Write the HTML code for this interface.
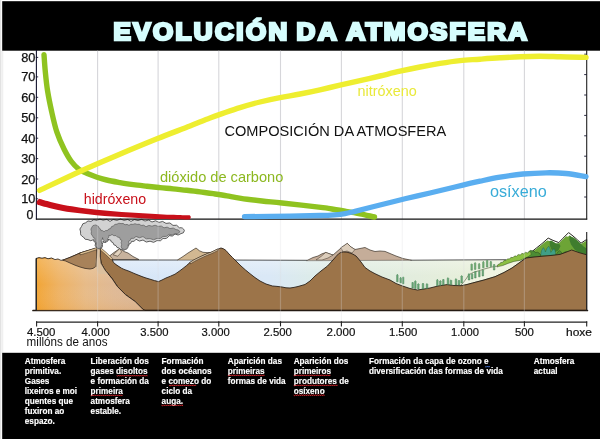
<!DOCTYPE html>
<html lang="gl">
<head>
<meta charset="utf-8">
<title>Evolución da atmosfera</title>
<style>
  html, body { margin: 0; padding: 0; background: #ffffff; }
  body { width: 600px; height: 439px; overflow: hidden; position: relative;
         font-family: "Liberation Sans", sans-serif; }
  svg { position: absolute; left: 0; top: 0; display: block; will-change: transform; }
  text { font-family: "Liberation Sans", sans-serif; }
</style>
</head>
<body>
<svg width="600" height="439" viewBox="0 0 600 439">
  <defs>
    <linearGradient id="gOrange" gradientUnits="userSpaceOnUse" x1="36" y1="0" x2="147" y2="0">
      <stop offset="0" stop-color="#f2a535"/>
      <stop offset="0.2" stop-color="#eeb263"/>
      <stop offset="0.45" stop-color="#e7bb88"/>
      <stop offset="0.7" stop-color="#dfb995"/>
      <stop offset="1" stop-color="#d8b69a"/>
    </linearGradient>
    <linearGradient id="gOrangeV" x1="0" y1="0" x2="0" y2="1">
      <stop offset="0" stop-color="#ffffff" stop-opacity="0.18"/>
      <stop offset="0.5" stop-color="#ffffff" stop-opacity="0"/>
      <stop offset="1" stop-color="#e88a10" stop-opacity="0.12"/>
    </linearGradient>
    <clipPath id="clipOrange"><path d="M36.4,258.4 L64,259.8 L97.4,247.8 L100.4,247.8 L101,263.2 L105,270 L111.9,278.3 L117.4,286.5 L125.6,294.7 L135.1,301.5 L142,308.4 L144.7,310.4 L36.4,310.4 Z"/></clipPath>
    <linearGradient id="gWaterV" x1="0" y1="0" x2="0" y2="1">
      <stop offset="0" stop-color="#ffffff" stop-opacity="0.3"/>
      <stop offset="1" stop-color="#ffffff" stop-opacity="0"/>
    </linearGradient>
    <linearGradient id="gWater" gradientUnits="userSpaceOnUse" x1="112" y1="0" x2="507" y2="0">
      <stop offset="0" stop-color="#d7e6f8"/>
      <stop offset="0.40" stop-color="#dae8f6"/>
      <stop offset="0.50" stop-color="#dcebea"/>
      <stop offset="0.66" stop-color="#e0ece0"/>
      <stop offset="0.85" stop-color="#e5eedb"/>
      <stop offset="1" stop-color="#e9f0d8"/>
    </linearGradient>
  </defs>

  <!-- page background -->
  <rect x="0" y="0" width="600" height="439" fill="#ffffff"/>
  <rect x="0" y="0" width="1.2" height="439" fill="#e2e2e2"/>
  <rect x="1.2" y="50.7" width="2.1" height="302.1" fill="#f0f0f0"/>

  <!-- title band -->
  <rect x="2.2" y="1.2" width="598" height="49.5" fill="#000000"/>
  <g id="title" transform="scale(1.08 1)" font-size="24.0" font-weight="bold" fill="#d6fdfd" stroke="#d6fdfd" stroke-width="2.6" stroke-linejoin="miter">
    <text x="105.00" y="39.75" textLength="161.02" lengthAdjust="spacing">EVOLUCIÓN</text>
    <text x="274.54" y="39.75" textLength="37.31" lengthAdjust="spacing">DA</text>
    <text x="320.93" y="39.75" textLength="167.04" lengthAdjust="spacing">ATMOSFERA</text>
  </g>


  <!-- TERRAIN -->
  <g id="terrain" stroke-linejoin="round" stroke-linecap="round">
    <!-- water -->
    <path d="M112,260 L507,260 L507,292 L112,292 Z" fill="url(#gWater)" stroke="none"/>
    <!-- back mountains (tan) -->
    <path d="M109.5,256 L114,252.5 L120,248.4 L124,251.5 L128,253 L133,256.5 L139,259.6 L113,259.6 Z" fill="#c7b29d" stroke="#3a3026" stroke-width="0.7"/>
    <path d="M113.5,254.6 L120,248.4 L121.5,252 L118,256 Z" fill="#e2d3bf" stroke="#3a3026" stroke-width="0.5"/>
    <path d="M177.5,260 L183,256.5 L188,253 L192,250.5 L196,248 L199.5,250.8 L203,252.3 L207,252.6 L211,252.5 L216,260 Z" fill="#d2b892" stroke="#3a3026" stroke-width="0.7"/>
    <path d="M307,260.5 L313,257.5 L318,256 L322,253.8 L326,252.5 L330,254 L333,255 L337,251.5 L341,248 L347.5,243.5 L351,247 L355,249.5 L360,248.5 L365,247.5 L370,250 L375,251.5 L380,251 L385,251.4 L390,253.5 L396,256 L403,258.5 L411,260.2 Z" fill="#c5ad99" stroke="#3a3026" stroke-width="0.7"/>
    <path d="M326,252.5 L330,254 L333,255 L328,258 L322,260 L316,260 L321,256.5 Z" fill="#dccdbb" stroke="#3a3026" stroke-width="0.5"/>
    <path d="M347.5,243.5 L351,247 L355,249.5 L352,253 L347,251 L343,252 L341,248 Z" fill="#dccdbb" stroke="#3a3026" stroke-width="0.5"/>
    <!-- water top highlight -->
    <rect x="112" y="260" width="395" height="16" fill="url(#gWaterV)" stroke="none"/>
    <!-- water surface line -->
    <path d="M113,260 L177,260 M216,260 L307,260.3 M411,260.2 L506,259.7" fill="none" stroke="#2c2c2c" stroke-width="0.8"/>
    <!-- green hills on right -->
    <path d="M524.9,257.8 L531,252.4 L536.8,247.7 L542,243.6 L548.2,238.1 L553,240.4 L558.8,242.6 L563,238.2 L568.6,232.6 L573,236 L577.6,240 L581,243.2 L586.7,239.4 L586.7,254.8 L560,256 Z" fill="#ffffff" stroke="#26261e" stroke-width="1"/>
    <path d="M524.9,257.8 L531,253 L536.8,248.6 L542,244.6 L545,242 L547.4,240.4 L549.6,241 L551.4,240.8 L553.4,242 L556,243.4 L558.8,243.4 L561.6,240.6 L564,238.2 L566,236.2 L568,236.8 L569.6,235.6 L571.6,237 L573.6,237.8 L577.4,240.8 L581,244 L586.7,240.4 L586.7,254.8 L560,256.4 Z" fill="#6da436" stroke="none"/>
    <path d="M549.6,241 L551.4,240.8 L553.4,242 L556,243.4 L558.8,243.4 L560.5,246 L558.4,250.5 L554.6,252.6 L551.4,249.4 L549.8,245.4 Z" fill="#3f7d2e" stroke="none"/>
    <path d="M569.6,235.6 L571.6,237 L573.6,237.8 L577.4,240.8 L581,244 L583.6,246.4 L586.7,248.4 L586.7,254.8 L579,252.6 L574.6,249.4 L571,244.4 L569.4,240 Z" fill="#3f7d2e" stroke="none"/>
    <path d="M540.6,255.4 Q541,249.8 543.4,247.6 Q544.8,249.4 545.4,252 Q546.6,247.6 548.8,246.2 Q550.6,248.8 550.8,252.4 Q552.2,249.6 554.2,248.8 Q555.8,251.2 555.6,254.8 Z" fill="#3f9f86" stroke="#1e5a48" stroke-width="0.4"/>
    <path d="M526.6,257.4 Q526.8,253 529,251.6 Q530.4,249.6 532.2,250.8 Q534.6,250.4 535.4,252.6 Q537.6,251.6 539,253 Q540.8,254 540.6,256.2 Z" fill="#4c8c34" stroke="#26421c" stroke-width="0.5"/>
    <path d="M556,255 Q557,251.6 559.6,250.6 Q561.6,251.8 562.4,254 Q564,251.8 566.4,251.6 Q567.4,252.8 567,253.6 Z" fill="#4c8c34" stroke="#26421c" stroke-width="0.4"/>
    <!-- shelf light green -->
    <path d="M460,286 L463,283 L466,279 L469,274.6 L473,272.6 L478,271 L485,268.8 L492,267 L497.5,266 L503,263.6 L508,261.4 L514,259.8 L520,259.6 L526,257.6 L519,263 L512,268 L504,272.5 L495,276.7 L484,280 L472.5,283 L467,284.5 Z" fill="#f0f4e2" stroke="#4a5636" stroke-width="0.6"/>
    <!-- foreground bushes along slope -->
    <path d="M497,266.6 Q497.6,263.6 499.6,264 Q500.4,261.6 502.6,262.4 Q503.6,259.6 506,260.6 Q507,258 509.4,259 Q510.6,256.4 513,257.6 Q514.4,255 516.6,256.2 Q518,253.6 520.4,255 Q521.6,252.4 523.6,253.8 Q525.4,251.2 527.4,253 Q529,250.4 531,252.2 Q532,254.4 529.4,256 L526,257.8 L520,260.4 L514,261.4 L508,263.4 L503,265.4 Z" fill="#8cc043" stroke="#2e4a1e" stroke-width="0.5"/>
    <!-- main brown ground -->
    <path id="brown" d="M100.4,248.6 L106,253.5 L112,259 L113.4,262.4 L116,264.6 L119,266.6 L121.5,268.2 L124,269.4 L129,271.2 L134,273.4 L138,275 L142,276.6 L146,278 L150,279.2 L154.5,280.6 L158.5,281.6 L162,280 L166,278 L170.5,276.2 L175,274.2 L179,271.4 L183,268.4 L186.5,265.6 L190,262.5 L194,260 L198,258 L203,255.6 L207.5,253.7 L211,252.4 L214,251 L217.5,249.2 L221,248 L223.5,248.8 L226,250.5 L229,254 L232.5,257.5 L237,262 L241,266 L245.5,270 L250,273.7 L255,277.6 L260,281 L266,284 L272.5,286 L277,286.4 L282,287 L286,287.8 L290,288 L294,287.4 L298,286.5 L305,284.5 L310,281 L315,276 L321,271 L327.5,266 L333,260 L336,256.5 L338.7,253.7 L341,252.4 L343.7,252 L347,252.2 L350,253 L353,254.2 L356,256 L358.6,259 L361,262 L365,267.5 L370,271 L375,273.7 L382,277 L390,280 L396,283.5 L402.5,286 L410,288.5 L417.5,290 L424,289 L430,288 L438,286 L447,284.6 L454,285.5 L461,285.7 L467,284.5 L472.5,283 L484,280 L495,276.7 L504,272.5 L512,268 L519,263 L526,258 L534,257 L543,256.2 L552,255.4 L560,254.4 L566,252.2 L571.7,250 L579,252.6 L586.7,254.8 L586.7,310.4 L144.7,310.4 L142,308.4 L135.1,301.5 L125.6,294.7 L117.4,286.5 L111.9,278.3 L105,270 L101,263.2 L100.2,256 Z" fill="#9c7449" stroke="#2a2018" stroke-width="0.9"/>
    <path d="M190,262.3 L194,259.8 L198,257.8 L203,255.4 L207.5,253.5 L211,252.2 L214,250.8 L217.5,249 L218.4,250.2 L214.6,252.2 L211.6,253.6 L208,255 L203.6,256.9 L198.8,259.2 L194.8,261.2 L191,263.6 Z" fill="#dbc6a6" stroke="#2a2018" stroke-width="0.5"/>
    <line x1="33" y1="310.5" x2="587.4" y2="310.5" stroke="#241a12" stroke-width="1.7"/>
    <!-- orange left block -->
    <path id="orange" d="M36.4,258.4 L39,257.6 L42,258.2 L45,257.6 L48,258.8 L51.5,258 L55,259.6 L58,259 L61,260.4 L64,259.8 L70,257.4 L76,254.8 L80,253 L88,250.6 L97.4,247.8 L100.4,247.8 L100.2,256 L101,263.2 L105,270 L111.9,278.3 L117.4,286.5 L125.6,294.7 L135.1,301.5 L142,308.4 L144.7,310.4 L36.4,310.4 Z" fill="url(#gOrange)" stroke="#2a2018" stroke-width="0.9"/>
    <rect x="37" y="259" width="110" height="51" fill="url(#gOrangeV)" stroke="none" clip-path="url(#clipOrange)"/>
    <!-- volcano left flank dark -->
    <path d="M63,260 L70,257.4 L76,254.8 L80,253 L88,250.6 L97,248.2 L96.8,256 L96.4,262 L96,266.4 L93,268.4 L90,269 L85,268.4 L80,267 L75,265.2 L70,263 L66,261.2 Z" fill="#a8825a" stroke="#2a2018" stroke-width="0.7"/>
    <!-- lava strips -->
    <path d="M80,253 L88,250.4 L97.2,247.4 L97.4,249.4 L88.4,252.4 L80.6,254.8 Z" fill="#e3c595" stroke="#2a2018" stroke-width="0.5"/>
    <path d="M100.4,247.6 L106.4,252.6 L112.6,258.6 L111.2,260 L105.4,254.4 L100.4,250 Z" fill="#e3c595" stroke="#2a2018" stroke-width="0.5"/>
    <!-- conduit -->
    <path d="M97.2,248.4 L100.2,248.4 L100.2,256 L101,263.2 L105,270 L108,274 L99,274 L95.6,268 L95.6,262 L96.4,256 Z" fill="#dcc09e" stroke="none"/>
    <path d="M97,248.4 L96.6,256 L96.2,262 L96,266.4 M100.4,248.6 L100.2,256 L101,263.2 L105,270 L111.9,278.3" fill="none" stroke="#2a2018" stroke-width="0.6"/>
  </g>

  <g id="plants">
    <path d="M396.6,281.8 L396.6,275.1 Q397.4,273.5 398.1,275.1 L398.1,281.8 Z" fill="#6fb07c" stroke="#2f6a44" stroke-width="0.4"/>
    <path d="M399.9,282.8 L399.9,278.1 Q400.6,276.5 401.4,278.1 L401.4,282.8 Z" fill="#6fb07c" stroke="#2f6a44" stroke-width="0.4"/>
    <path d="M402.4,283.8 L402.4,277.6 Q403.2,276.0 403.9,277.6 L403.9,283.8 Z" fill="#6fb07c" stroke="#2f6a44" stroke-width="0.4"/>
    <path d="M411.9,288.0 L411.9,282.8 Q412.6,281.2 413.4,282.8 L413.4,288.0 Z" fill="#6fb07c" stroke="#2f6a44" stroke-width="0.4"/>
    <path d="M414.6,288.6 L414.6,281.4 Q415.4,279.8 416.1,281.4 L416.1,288.6 Z" fill="#6fb07c" stroke="#2f6a44" stroke-width="0.4"/>
    <path d="M417.6,289.0 L417.6,284.3 Q418.4,282.7 419.1,284.3 L419.1,289.0 Z" fill="#6fb07c" stroke="#2f6a44" stroke-width="0.4"/>
    <path d="M422.2,289.0 L422.2,283.8 Q423.0,282.2 423.8,283.8 L423.8,289.0 Z" fill="#6fb07c" stroke="#2f6a44" stroke-width="0.4"/>
    <path d="M426.2,288.4 L426.2,284.2 Q427.0,282.6 427.8,284.2 L427.8,288.4 Z" fill="#6fb07c" stroke="#2f6a44" stroke-width="0.4"/>
    <path d="M436.6,285.8 L436.6,280.1 Q437.4,278.5 438.1,280.1 L438.1,285.8 Z" fill="#6fb07c" stroke="#2f6a44" stroke-width="0.4"/>
    <path d="M439.6,285.4 L439.6,281.2 Q440.4,279.6 441.1,281.2 L441.1,285.4 Z" fill="#6fb07c" stroke="#2f6a44" stroke-width="0.4"/>
    <path d="M442.6,285.0 L442.6,279.8 Q443.4,278.2 444.1,279.8 L444.1,285.0 Z" fill="#6fb07c" stroke="#2f6a44" stroke-width="0.4"/>
    <path d="M447.2,284.6 L447.2,278.4 Q448.0,276.8 448.8,278.4 L448.8,284.6 Z" fill="#6fb07c" stroke="#2f6a44" stroke-width="0.4"/>
    <path d="M450.2,284.8 L450.2,280.6 Q451.0,279.0 451.8,280.6 L451.8,284.8 Z" fill="#6fb07c" stroke="#2f6a44" stroke-width="0.4"/>
    <path d="M455.2,285.0 L455.2,279.3 Q456.0,277.7 456.8,279.3 L456.8,285.0 Z" fill="#6fb07c" stroke="#2f6a44" stroke-width="0.4"/>
    <path d="M458.2,285.0 L458.2,280.8 Q459.0,279.2 459.8,280.8 L459.8,285.0 Z" fill="#6fb07c" stroke="#2f6a44" stroke-width="0.4"/>
    <path d="M460.9,283.0 L460.9,276.3 Q461.6,274.7 462.4,276.3 L462.4,283.0 Z" fill="#6fb07c" stroke="#2f6a44" stroke-width="0.4"/>
    <path d="M468.2,280.0 L468.2,274.3 Q469.0,272.7 469.8,274.3 L469.8,280.0 Z" fill="#6fb07c" stroke="#2f6a44" stroke-width="0.4"/>
    <path d="M471.4,279.0 L471.4,274.3 Q472.2,272.7 472.9,274.3 L472.9,279.0 Z" fill="#6fb07c" stroke="#2f6a44" stroke-width="0.4"/>
    <path d="M474.6,278.0 L474.6,271.8 Q475.4,270.2 476.1,271.8 L476.1,278.0 Z" fill="#6fb07c" stroke="#2f6a44" stroke-width="0.4"/>
    <path d="M478.6,276.8 L478.6,271.6 Q479.4,270.0 480.1,271.6 L480.1,276.8 Z" fill="#6fb07c" stroke="#2f6a44" stroke-width="0.4"/>
    <path d="M482.1,276.0 L482.1,270.3 Q482.8,268.7 483.6,270.3 L483.6,276.0 Z" fill="#6fb07c" stroke="#2f6a44" stroke-width="0.4"/>
    <path d="M470.9,270.2 L470.9,264.5 Q471.6,262.9 472.4,264.5 L472.4,270.2 Z" fill="#7ab676" stroke="#2f6a44" stroke-width="0.4"/>
    <path d="M474.4,269.4 L474.4,263.2 Q475.2,261.6 475.9,263.2 L475.9,269.4 Z" fill="#7ab676" stroke="#2f6a44" stroke-width="0.4"/>
    <path d="M478.4,268.8 L478.4,264.1 Q479.2,262.5 479.9,264.1 L479.9,268.8 Z" fill="#7ab676" stroke="#2f6a44" stroke-width="0.4"/>
    <path d="M482.6,267.8 L482.6,262.1 Q483.4,260.5 484.1,262.1 L484.1,267.8 Z" fill="#7ab676" stroke="#2f6a44" stroke-width="0.4"/>
    <path d="M486.4,267.0 L486.4,260.8 Q487.2,259.2 487.9,260.8 L487.9,267.0 Z" fill="#7ab676" stroke="#2f6a44" stroke-width="0.4"/>
    <path d="M490.1,266.6 L490.1,261.9 Q490.8,260.3 491.6,261.9 L491.6,266.6 Z" fill="#7ab676" stroke="#2f6a44" stroke-width="0.4"/>
    <path d="M493.4,270.0 L493.4,264.8 Q494.2,263.2 494.9,264.8 L494.9,270.0 Z" fill="#7ab676" stroke="#2f6a44" stroke-width="0.4"/>
  </g>

  <!-- smoke -->
  <g id="smoke" stroke="#3c3c3c" stroke-width="0.8" stroke-linejoin="round">
    <path id="smokeOuter" d="M97.0,248.0 Q94.0,245.9 95.6,242.6 Q93.3,242.0 93.5,239.6 Q90.8,241.9 88.0,239.6 Q84.6,240.2 83.4,237.0 Q79.9,235.7 80.6,232.0 Q78.7,228.8 81.6,226.4 Q82.1,222.9 85.6,222.8 Q87.7,219.8 91.0,221.4 Q93.6,218.4 97.0,220.4 Q99.9,217.8 103.0,220.2 Q107.0,217.9 110.0,221.4 Q113.1,218.0 117.0,220.4 Q120.5,217.5 124.0,220.4 Q127.9,218.0 131.0,221.4 Q134.2,218.1 138.0,220.6 Q141.7,217.9 145.0,221.0 Q148.9,218.6 152.0,222.0 Q155.7,219.3 159.0,222.4 Q162.9,220.0 166.0,223.4 Q170.3,221.5 173.0,225.4 Q177.2,223.9 179.4,227.8 Q183.1,227.1 184.4,230.6 Q184.0,233.5 181.0,233.6 Q178.2,236.3 175.0,234.0 Q172.7,237.3 169.0,235.6 Q167.2,239.5 163.0,238.4 Q160.9,242.0 157.0,240.6 Q153.8,243.8 150.0,241.2 Q146.0,243.5 143.0,240.0 Q139.2,242.5 136.0,239.2 Q134.7,242.2 131.5,241.4 Q131.3,243.8 129.0,244.0 Q129.3,245.9 127.5,246.6 Q127.7,248.8 125.5,249.4 Q123.5,251.1 121.5,249.4 Q119.7,249.8 119.0,248.0 Q116.5,248.1 116.0,245.6 Q113.2,245.4 113.0,242.6 Q110.7,242.3 110.6,240.0 Q109.2,240.3 108.6,239.0 Q108.8,240.9 107.0,241.4 Q106.4,242.7 105.0,242.4 Q103.6,242.6 103.2,241.2 Q103.8,243.1 102.0,244.0 Q103.4,246.2 101.5,248.0 Q99.2,249.9 97.0,248.0 Z" fill="#d2d2d2"/>
    <path id="smokeDark" d="M97.2,248.0 Q95.0,245.8 96.4,243.0 Q94.0,241.2 95.0,238.4 Q92.9,238.1 92.6,236.0 Q90.3,234.1 91.4,231.4 Q90.1,229.0 92.0,227.0 Q92.6,225.2 94.4,225.2 Q95.8,224.5 97.0,225.6 Q98.9,226.1 99.0,228.0 Q100.9,228.6 101.0,230.6 Q102.9,230.1 104.0,231.8 Q105.3,229.9 107.5,230.6 Q108.3,228.5 110.5,228.6 Q111.0,226.1 113.5,225.8 Q114.7,223.7 117.0,224.2 Q118.8,222.5 121.0,223.6 Q123.4,222.8 125.0,224.8 Q127.2,223.7 129.0,225.4 Q130.6,223.5 133.0,224.4 Q135.0,223.0 137.0,224.4 Q139.4,223.5 141.0,225.4 Q144.0,224.3 146.0,226.8 Q148.8,224.3 152.0,226.2 Q155.1,224.1 158.0,226.4 Q161.5,224.9 164.0,227.8 Q167.3,226.0 170.0,228.6 Q173.4,226.9 176.0,229.6 Q178.8,229.3 180.0,231.8 Q178.1,234.5 175.0,233.6 Q172.2,236.1 169.0,234.2 Q166.8,237.5 163.0,236.4 Q160.7,239.6 157.0,238.4 Q153.6,241.0 150.0,238.6 Q145.8,240.1 143.0,236.6 Q139.4,239.0 136.0,236.4 Q134.2,239.2 131.0,238.4 Q130.8,240.8 128.4,241.4 Q129.5,243.3 128.0,245.0 Q128.9,247.3 127.0,248.8 Q124.6,250.5 122.2,248.8 Q120.4,246.9 121.6,244.6 Q120.4,242.5 122.0,240.6 Q119.6,239.9 119.6,237.4 Q117.2,237.8 116.0,235.6 Q113.6,236.4 112.0,234.4 Q110.8,236.1 108.8,235.4 Q109.4,237.4 107.6,238.6 Q107.9,240.7 106.0,241.6 Q104.6,241.7 104.0,240.4 Q102.3,239.5 102.6,237.6 Q102.9,239.7 101.0,240.6 Q103.5,244.4 100.6,248.0 Q98.9,249.2 97.2,248.0 Z" fill="#9e9e9e" stroke="#505050" stroke-width="0.6"/>
  </g>

  <!-- vertical grid lines -->
  <g id="grid" fill="none">
    <line x1="97.6" y1="50.7" x2="97.6" y2="219" stroke="#d6d6da" stroke-width="1.1"/>
    <line x1="97.6" y1="219" x2="97.6" y2="322" stroke="#dadade" stroke-opacity="0.28" stroke-width="1.2"/>
    <line x1="158.1" y1="50.7" x2="158.1" y2="219" stroke="#d6d6da" stroke-width="1.1"/>
    <line x1="158.1" y1="219" x2="158.1" y2="322" stroke="#dadade" stroke-opacity="0.28" stroke-width="1.2"/>
    <line x1="218.8" y1="50.7" x2="218.8" y2="219" stroke="#d6d6da" stroke-width="1.1"/>
    <line x1="218.8" y1="219" x2="218.8" y2="322" stroke="#dadade" stroke-opacity="0.28" stroke-width="1.2"/>
    <line x1="280.5" y1="50.7" x2="280.5" y2="219" stroke="#d6d6da" stroke-width="1.1"/>
    <line x1="280.5" y1="219" x2="280.5" y2="322" stroke="#dadade" stroke-opacity="0.28" stroke-width="1.2"/>
    <line x1="341.4" y1="50.7" x2="341.4" y2="219" stroke="#d6d6da" stroke-width="1.1"/>
    <line x1="341.4" y1="219" x2="341.4" y2="322" stroke="#dadade" stroke-opacity="0.28" stroke-width="1.2"/>
    <line x1="402.3" y1="50.7" x2="402.3" y2="219" stroke="#d6d6da" stroke-width="1.1"/>
    <line x1="402.3" y1="219" x2="402.3" y2="322" stroke="#dadade" stroke-opacity="0.28" stroke-width="1.2"/>
    <line x1="463.8" y1="50.7" x2="463.8" y2="219" stroke="#d6d6da" stroke-width="1.1"/>
    <line x1="463.8" y1="219" x2="463.8" y2="322" stroke="#dadade" stroke-opacity="0.28" stroke-width="1.2"/>
    <line x1="524.4" y1="50.7" x2="524.4" y2="219" stroke="#d6d6da" stroke-width="1.1"/>
    <line x1="524.4" y1="219" x2="524.4" y2="322" stroke="#dadade" stroke-opacity="0.28" stroke-width="1.2"/>
  </g>

  <!-- chart axes -->
  <g id="axes" stroke="#14142e" stroke-width="1.1" fill="none">
    <line x1="36.4" y1="50" x2="36.4" y2="219.6"/>
    <line x1="35.9" y1="219.1" x2="587.2" y2="219.1" stroke="#111"/>
    <line x1="586.7" y1="50" x2="586.7" y2="219.6" stroke="#222"/>
    <line x1="36.4" y1="258" x2="36.4" y2="311" stroke="#222"/>
    <line x1="586.7" y1="232" x2="586.7" y2="311" stroke="#222"/>
    <line x1="36" y1="322.1" x2="587.2" y2="322.1" stroke="#222" stroke-width="1.3"/>
  </g>

  <g id="yticks" stroke="#14142e" stroke-width="0.9">
    <line x1="35.8" y1="57.4" x2="38.2" y2="57.4"/>
    <line x1="35.8" y1="76.9" x2="38.2" y2="76.9"/>
    <line x1="35.8" y1="97.3" x2="38.2" y2="97.3"/>
    <line x1="35.8" y1="117.8" x2="38.2" y2="117.8"/>
    <line x1="35.8" y1="138.2" x2="38.2" y2="138.2"/>
    <line x1="35.8" y1="158.6" x2="38.2" y2="158.6"/>
    <line x1="35.8" y1="179.0" x2="38.2" y2="179.0"/>
    <line x1="35.8" y1="198.8" x2="38.2" y2="198.8"/>
    <line x1="584.2" y1="54.2" x2="586.7" y2="54.2"/>
    <line x1="584.2" y1="74.6" x2="586.7" y2="74.6"/>
    <line x1="584.2" y1="95.0" x2="586.7" y2="95.0"/>
    <line x1="584.2" y1="115.4" x2="586.7" y2="115.4"/>
    <line x1="584.2" y1="135.8" x2="586.7" y2="135.8"/>
    <line x1="584.2" y1="156.2" x2="586.7" y2="156.2"/>
    <line x1="584.2" y1="176.6" x2="586.7" y2="176.6"/>
    <line x1="584.2" y1="197.0" x2="586.7" y2="197.0"/>
  </g>

  <!-- CURVES -->
  <g id="curves" fill="none" stroke-linecap="round" stroke-linejoin="round">
    <path id="co2" d="M44.0,54.6 C44.2,57.2 44.6,64.4 45.2,70.5 C45.8,76.6 46.5,84.2 47.6,91.0 C48.7,97.8 50.1,104.6 51.6,111.4 C53.1,118.2 54.7,125.6 56.8,131.9 C58.9,138.2 61.6,144.2 64.0,149.0 C66.4,153.8 68.5,157.6 71.0,161.0 C73.5,164.4 76.2,167.2 79.0,169.3 C81.8,171.4 85.0,172.5 88.0,173.8 C91.0,175.1 93.9,176.2 97.0,177.2 C100.1,178.2 102.9,179.1 106.7,180.0 C110.5,180.9 115.6,181.8 120.0,182.6 C124.4,183.4 128.8,184.0 133.3,184.6 C137.8,185.2 142.6,185.7 147.0,186.2 C151.4,186.7 155.7,187.1 160.0,187.6 C164.3,188.1 168.6,188.4 173.0,188.9 C177.4,189.4 182.2,189.8 186.7,190.3 C191.2,190.8 195.6,191.3 200.0,191.9 C204.4,192.5 208.8,193.0 213.3,193.7 C217.8,194.4 222.4,195.1 227.0,195.9 C231.6,196.7 235.2,197.5 241.0,198.3 C246.8,199.2 255.2,200.2 262.0,201.0 C268.8,201.8 271.8,201.9 282.0,203.0 C292.2,204.1 315.0,206.7 323.0,207.6 C331.0,208.5 326.3,208.1 330.0,208.7 C333.7,209.3 340.0,210.3 345.0,211.2 C350.0,212.0 355.1,212.8 360.0,213.8 C364.9,214.8 372.1,216.5 374.5,217.0" stroke="#8fc320" stroke-width="5.4"/>
    <path id="nitro" d="M39.6,190.4 C46.5,187.2 67.3,177.2 81.0,171.0 C94.7,164.8 109.3,158.7 122.0,153.3 C134.7,147.9 145.7,143.4 157.0,138.8 C168.3,134.2 181.2,129.5 190.0,126.0 C198.8,122.5 205.0,119.9 210.0,118.0 C215.0,116.1 215.0,116.1 220.0,114.4 C225.0,112.7 233.3,109.7 240.0,107.6 C246.7,105.5 253.3,103.7 260.0,102.0 C266.7,100.3 273.3,98.9 280.0,97.6 C286.7,96.3 293.3,95.3 300.0,94.0 C306.7,92.7 313.3,91.3 320.0,89.8 C326.7,88.3 333.3,86.7 340.0,85.2 C346.7,83.7 353.3,82.1 360.0,80.6 C366.7,79.1 373.3,77.6 380.0,76.0 C386.7,74.4 393.3,72.7 400.0,71.2 C406.7,69.7 413.3,68.3 420.0,67.0 C426.7,65.7 433.3,64.5 440.0,63.4 C446.7,62.3 453.3,61.3 460.0,60.6 C466.7,59.9 473.3,59.7 480.0,59.2 C486.7,58.7 493.3,58.2 500.0,57.8 C506.7,57.4 513.3,57.0 520.0,56.7 C526.7,56.4 533.3,56.2 540.0,56.2 C546.7,56.2 553.3,56.6 560.0,56.8 C566.7,57.0 575.7,57.2 580.0,57.3 C584.3,57.4 585.0,57.4 586.0,57.4" stroke="#eeee30" stroke-width="5.4"/>
    <path id="hidro" d="M39.1,198.8 C41.1,199.3 46.6,201.0 50.7,202.0 C54.9,203.1 58.9,204.1 63.8,205.1 C68.8,206.0 74.9,206.9 80.4,207.7 C85.9,208.4 91.5,209.2 97.0,209.8 C102.5,210.4 107.7,210.8 113.2,211.3 C118.7,211.7 124.5,212.2 130.2,212.6 C135.8,212.9 141.6,213.3 147.1,213.6 C152.7,213.9 158.4,214.2 163.4,214.4 C168.4,214.6 172.7,214.7 177.1,214.9 C181.4,215.0 187.6,215.2 189.7,215.3 Q192.0,217.4 189.5,219.5 L189.5,219.5 C187.4,219.5 181.3,219.4 176.9,219.3 C172.6,219.2 168.2,219.2 163.2,219.0 C158.2,218.9 152.4,218.7 146.9,218.4 C141.3,218.2 135.5,218.0 129.8,217.6 C124.2,217.3 118.4,216.9 112.8,216.5 C107.2,216.1 101.9,215.8 96.4,215.2 C90.9,214.7 85.2,214.1 79.6,213.3 C74.0,212.6 67.8,211.8 62.8,210.9 C57.7,210.0 53.5,209.0 49.3,208.0 C45.0,207.0 39.4,205.4 37.5,204.8 Q35.1,201.8 39.1,198.8 Z" fill="#c8101a" stroke="none"/>
    <path id="oxi" d="M244.5,216.6 C252.1,216.5 277.4,216.4 290.0,216.2 C302.6,216.0 312.5,215.7 320.0,215.5 C327.5,215.3 330.8,215.1 335.0,214.8 C339.2,214.5 341.7,214.2 345.0,213.6 C348.3,213.0 349.2,212.7 355.0,211.3 C360.8,209.9 371.7,207.1 380.0,205.0 C388.3,202.9 396.7,200.8 405.0,198.8 C413.3,196.8 421.7,195.0 430.0,193.0 C438.3,191.0 446.7,189.0 455.0,187.0 C463.3,185.0 472.5,182.8 480.0,181.2 C487.5,179.6 492.8,178.4 500.0,177.2 C507.2,176.0 515.3,174.7 523.0,174.0 C530.7,173.3 538.8,172.9 546.0,172.8 C553.2,172.7 559.3,172.8 566.0,173.5 C572.7,174.2 582.7,176.2 586.0,176.7" stroke="#5aaef0" stroke-width="5.3"/>
  </g>

  <!-- chart labels -->
  <g id="ylabels" font-size="12" fill="#111" stroke="#111" stroke-width="0.25" text-anchor="end">
    <text x="35.4" y="62.0" textLength="14.2" lengthAdjust="spacingAndGlyphs">80</text>
    <text x="35.4" y="81.3" textLength="14.2" lengthAdjust="spacingAndGlyphs">70</text>
    <text x="35.4" y="101.7" textLength="14.2" lengthAdjust="spacingAndGlyphs">60</text>
    <text x="35.4" y="122.2" textLength="14.2" lengthAdjust="spacingAndGlyphs">50</text>
    <text x="35.4" y="142.6" textLength="14.2" lengthAdjust="spacingAndGlyphs">40</text>
    <text x="35.4" y="162.9" textLength="14.2" lengthAdjust="spacingAndGlyphs">30</text>
    <text x="35.4" y="183.5" textLength="14.2" lengthAdjust="spacingAndGlyphs">20</text>
    <text x="35.4" y="202.7" textLength="14.2" lengthAdjust="spacingAndGlyphs">10</text>
    <text x="33.4" y="218.7" textLength="6.9" lengthAdjust="spacingAndGlyphs">0</text>
  </g>
  <text x="357.6" y="95.8" font-size="14.4" fill="#e9e93a">nitróxeno</text>
  <text x="224.4" y="136.3" font-size="14.6" fill="#111">COMPOSICIÓN DA ATMOSFERA</text>
  <text x="160" y="182" font-size="14.6" fill="#8cb820">dióxido de carbono</text>
  <text x="83.8" y="203.8" font-size="14.2" fill="#c8101a">hidróxeno</text>
  <text x="490" y="196.7" font-size="16.2" fill="#38acd8">osíxeno</text>

  <!-- x-axis -->
  <g id="xticks" stroke="#222" stroke-width="1.1">
    <line x1="36.6" y1="321.2" x2="36.6" y2="326.4"/>
    <line x1="97.6" y1="321.2" x2="97.6" y2="326.4"/>
    <line x1="158.1" y1="321.2" x2="158.1" y2="326.4"/>
    <line x1="218.8" y1="321.2" x2="218.8" y2="326.4"/>
    <line x1="280.5" y1="321.2" x2="280.5" y2="326.4"/>
    <line x1="341.4" y1="321.2" x2="341.4" y2="326.4"/>
    <line x1="402.3" y1="321.2" x2="402.3" y2="326.4"/>
    <line x1="463.8" y1="321.2" x2="463.8" y2="326.4"/>
    <line x1="524.4" y1="321.2" x2="524.4" y2="326.4"/>
    <line x1="586.7" y1="321.2" x2="586.7" y2="326.4"/>
  </g>
  <g id="xlabels" font-size="11.6" fill="#111" stroke="#111" stroke-width="0.2">
    <text x="26.9" y="335.6" textLength="28.5" lengthAdjust="spacingAndGlyphs">4.500</text>
    <text x="81.6" y="335.6" textLength="28.2" lengthAdjust="spacingAndGlyphs">4.000</text>
    <text x="140.3" y="335.6" textLength="28.2" lengthAdjust="spacingAndGlyphs">3.500</text>
    <text x="201.6" y="335.6" textLength="28.2" lengthAdjust="spacingAndGlyphs">3.000</text>
    <text x="263.5" y="335.6" textLength="28.4" lengthAdjust="spacingAndGlyphs">2.500</text>
    <text x="326.5" y="335.6" textLength="28.8" lengthAdjust="spacingAndGlyphs">2.000</text>
    <text x="388.9" y="335.6" textLength="28.4" lengthAdjust="spacingAndGlyphs">1.500</text>
    <text x="451.0" y="335.6" textLength="28.0" lengthAdjust="spacingAndGlyphs">1.000</text>
    <text x="514.9" y="335.6" textLength="19.0" lengthAdjust="spacingAndGlyphs">500</text>
    <text x="566.0" y="335.6" textLength="26.0" lengthAdjust="spacingAndGlyphs">hoxe</text>
  </g>
  <text x="26.6" y="346.3" font-size="12" fill="#111" textLength="81" lengthAdjust="spacingAndGlyphs">millóns de anos</text>

  <!-- bottom band -->
  <rect x="2.2" y="352.8" width="598" height="87" fill="#000000"/>
  <g id="notes" font-size="8.2" font-weight="bold" fill="#ffffff" stroke="#ffffff" stroke-width="0.15">
    <text x="24.8" y="364">Atmosfera</text>
    <text x="24.8" y="374">primitiva.</text>
    <text x="24.8" y="384">Gases</text>
    <text x="24.8" y="394">lixeiros e moi</text>
    <text x="24.8" y="404">quentes que</text>
    <text x="24.8" y="414">fuxiron ao</text>
    <text x="24.8" y="424">espazo.</text>

    <text x="90.6" y="364">Liberación dos</text>
    <text x="90.6" y="374">gases disoltos</text>
    <text x="90.6" y="384">e formación da</text>
    <text x="90.6" y="394">primeira</text>
    <text x="90.6" y="404">atmosfera</text>
    <text x="90.6" y="414">estable.</text>

    <text x="161.6" y="364">Formación</text>
    <text x="161.6" y="374">dos océanos</text>
    <text x="161.6" y="384">e comezo do</text>
    <text x="161.6" y="394">ciclo da</text>
    <text x="161.6" y="404">auga.</text>

    <text x="227.8" y="364">Aparición das</text>
    <text x="227.8" y="374">primeiras</text>
    <text x="227.8" y="384">formas de vida</text>

    <text x="293.7" y="364">Aparición dos</text>
    <text x="293.7" y="374">primeiros</text>
    <text x="293.7" y="384">produtores de</text>
    <text x="293.7" y="394">osíxeno</text>

    <text x="369" y="364">Formación da capa de ozono e</text>
    <text x="369" y="374">diversificación das formas de vida</text>

    <text x="533.8" y="364">Atmosfera</text>
    <text x="533.8" y="374">actual</text>
  </g>
  <g id="spell" fill="none" stroke-width="0.9" stroke-linejoin="round">
    <path d="M116.7,375.6 L117.7,376.2 L118.7,375.1 L119.7,376.2 L120.7,375.1 L121.7,376.2 L122.7,375.1 L123.7,376.2 L124.7,375.1 L125.7,376.2 L126.7,375.1 L127.7,376.2 L128.7,375.1 L129.7,376.2 L130.7,375.1 L131.7,376.2 L132.7,375.1 L133.7,376.2 L134.7,375.1 L135.7,376.2 L136.7,375.1 L137.7,376.2 L138.7,375.1 L139.7,376.2 L140.7,375.1 L141.7,376.2 L142.7,375.1 L143.7,376.2 L144.7,375.1 L145.7,376.2 L146.7,375.1 L147.3,376.2" stroke="#e0262c"/>
    <path d="M90.7,395.4 L91.7,395.9 L92.7,394.8 L93.7,395.9 L94.7,394.8 L95.7,395.9 L96.7,394.8 L97.7,395.9 L98.7,394.8 L99.7,395.9 L100.7,394.8 L101.7,395.9 L102.7,394.8 L103.7,395.9 L104.7,394.8 L105.7,395.9 L106.7,394.8 L107.7,395.9 L108.7,394.8 L109.7,395.9 L110.7,394.8 L111.7,395.9 L112.7,394.8 L113.7,395.9 L114.7,394.8 L115.7,395.9 L116.7,394.8 L117.7,395.9 L118.7,394.8 L119.7,395.9 L120.7,394.8 L121.7,395.9 L122.7,394.8" stroke="#e0262c"/>
    <path d="M169.2,385.4 L170.2,385.9 L171.2,384.8 L172.2,385.9 L173.2,384.8 L174.2,385.9 L175.2,384.8 L176.2,385.9 L177.2,384.8 L178.2,385.9 L179.2,384.8 L180.2,385.9 L181.2,384.8 L182.2,385.9 L183.2,384.8 L184.2,385.9 L185.2,384.8 L186.2,385.9 L187.2,384.8 L188.2,385.9 L189.2,384.8 L190.2,385.9 L191.2,384.8 L192.2,385.9 L193.2,384.8 L194.2,385.9 L195.2,384.8 L196.0,385.9" stroke="#e0262c"/>
    <path d="M161.5,405.4 L162.5,405.9 L163.5,404.8 L164.5,405.9 L165.5,404.8 L166.5,405.9 L167.5,404.8 L168.5,405.9 L169.5,404.8 L170.5,405.9 L171.5,404.8 L172.5,405.9 L173.5,404.8 L174.5,405.9 L175.5,404.8 L176.5,405.9 L177.5,404.8 L178.5,405.9 L179.5,404.8 L180.5,405.9 L181.5,404.8 L182.5,405.9 L182.6,404.8" stroke="#e0262c"/>
    <path d="M227.8,375.4 L228.8,375.9 L229.8,374.8 L230.8,375.9 L231.8,374.8 L232.8,375.9 L233.8,374.8 L234.8,375.9 L235.8,374.8 L236.8,375.9 L237.8,374.8 L238.8,375.9 L239.8,374.8 L240.8,375.9 L241.8,374.8 L242.8,375.9 L243.8,374.8 L244.8,375.9 L245.8,374.8 L246.8,375.9 L247.8,374.8 L248.8,375.9 L249.8,374.8 L250.8,375.9 L251.8,374.8 L252.8,375.9 L253.8,374.8 L254.8,375.9 L255.8,374.8 L256.8,375.9 L257.8,374.8 L258.8,375.9 L259.8,374.8 L260.8,375.9 L261.8,374.8 L262.8,375.9 L263.8,374.8 L264.2,375.9" stroke="#e0262c"/>
    <path d="M293.7,375.4 L294.7,375.9 L295.7,374.8 L296.7,375.9 L297.7,374.8 L298.7,375.9 L299.7,374.8 L300.7,375.9 L301.7,374.8 L302.7,375.9 L303.7,374.8 L304.7,375.9 L305.7,374.8 L306.7,375.9 L307.7,374.8 L308.7,375.9 L309.7,374.8 L310.7,375.9 L311.7,374.8 L312.7,375.9 L313.7,374.8 L314.7,375.9 L315.7,374.8 L316.7,375.9 L317.7,374.8 L318.7,375.9 L319.7,374.8 L320.7,375.9 L321.7,374.8 L322.7,375.9 L323.7,374.8 L324.7,375.9 L325.7,374.8 L326.7,375.9 L327.7,374.8 L328.7,375.9 L329.7,374.8 L330.0,375.9" stroke="#e0262c"/>
    <path d="M293.7,385.4 L294.7,385.9 L295.7,384.8 L296.7,385.9 L297.7,384.8 L298.7,385.9 L299.7,384.8 L300.7,385.9 L301.7,384.8 L302.7,385.9 L303.7,384.8 L304.7,385.9 L305.7,384.8 L306.7,385.9 L307.7,384.8 L308.7,385.9 L309.7,384.8 L310.7,385.9 L311.7,384.8 L312.7,385.9 L313.7,384.8 L314.7,385.9 L315.7,384.8 L316.7,385.9 L317.7,384.8 L318.7,385.9 L319.7,384.8 L320.7,385.9 L321.7,384.8 L322.7,385.9 L323.7,384.8 L324.7,385.9 L325.7,384.8 L326.7,385.9 L327.7,384.8 L328.7,385.9 L329.7,384.8 L330.7,385.9 L331.7,384.8 L332.7,385.9 L333.7,384.8 L334.7,385.9 L335.7,384.8 L336.7,385.9 L337.7,384.8" stroke="#e0262c"/>
    <path d="M293.7,395.2 L294.7,395.8 L295.7,394.6 L296.7,395.8 L297.7,394.6 L298.7,395.8 L299.7,394.6 L300.7,395.8 L301.7,394.6 L302.7,395.8 L303.7,394.6 L304.7,395.8 L305.7,394.6 L306.7,395.8 L307.7,394.6 L308.7,395.8 L309.7,394.6 L310.7,395.8 L311.7,394.6 L312.7,395.8 L313.7,394.6 L314.7,395.8 L315.7,394.6 L316.7,395.8 L317.7,394.6 L318.7,395.8 L319.7,394.6 L320.7,395.8 L321.7,394.6 L322.7,395.8 L323.7,394.6 L324.3,395.8" stroke="#e0262c"/>
    <path d="M485.2,366.6 L486.2,367.2 L487.2,366.1 L488.2,367.2 L489.2,366.1 L489.4,367.2" stroke="#4a7ae0"/>
  </g>
</svg>
</body>
</html>
